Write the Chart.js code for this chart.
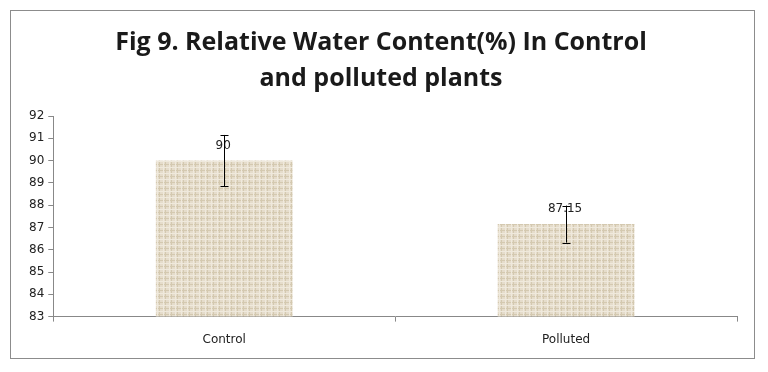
<!DOCTYPE html>
<html>
<head>
<meta charset="utf-8">
<script src="https://cdn.jsdelivr.net/npm/chart.js@4.4.1/dist/chart.umd.min.js"></script>
<style>
  html, body { margin: 0; padding: 0; background: #fff; }
  #wrap { width: 768px; height: 372px; }
</style>
</head>
<body>
<div id="wrap"><canvas id="rwcChart" width="768" height="372"></canvas></div>
<script>
// données du graphique
const categories = ['Control', 'Polluted'];
const rwcValues = [90, 87.15];
const rwcErrors = [1.15, 0.83];
const valueLabels = ['90', '87.15'];
const yTicks = [83, 84, 85, 86, 87, 88, 89, 90, 91, 92];

// motif "toile de jute" pour les barres
function makeBurlap() {
    const c = document.createElement('canvas');
    c.width = 6; c.height = 6;
    const g = c.getContext('2d');
    g.fillStyle = '#e5dccb';
    g.fillRect(0, 0, 6, 6);
    g.fillStyle = '#d4c9b0';
    g.fillRect(0, 2, 6, 1);
    g.fillRect(3, 0, 1, 6);
    g.fillStyle = '#efe9dc';
    g.fillRect(0, 5, 6, 1);
    g.fillRect(1, 0, 1, 6);
    return g.createPattern(c, 'repeat');
}

const frame = {
    id: 'frame',
    afterDraw(chart) {
        const ctx = chart.ctx;
        ctx.save();
        ctx.strokeStyle = '#8c8c8c';
        ctx.lineWidth = 1;
        ctx.strokeRect(10.5, 10.5, 744, 348);
        ctx.restore();
    }
};

const errorBars = {
    id: 'errorBars',
    afterDatasetsDraw(chart) {
        const ctx = chart.ctx;
        const meta = chart.getDatasetMeta(0);
        const y = chart.scales.y;
        ctx.save();
        meta.data.forEach((bar, i) => {
            const x = Math.round(bar.x) + 0.5;
            const top = y.getPixelForValue(rwcValues[i] + rwcErrors[i]);
            const bot = y.getPixelForValue(rwcValues[i] - rwcErrors[i]);
            // étiquette de valeur
            ctx.fillStyle = '#222';
            ctx.font = '12px "DejaVu Sans"';
            ctx.textAlign = 'center';
            ctx.textBaseline = 'middle';
            ctx.fillText(valueLabels[i], bar.x - 1, bar.y - 15);
            // barre d'erreur
            ctx.strokeStyle = '#000';
            ctx.lineWidth = 1;
            ctx.beginPath();
            ctx.moveTo(x, top); ctx.lineTo(x, bot);
            ctx.moveTo(x - 4, Math.round(top) + 0.5); ctx.lineTo(x + 4, Math.round(top) + 0.5);
            ctx.moveTo(x - 4, Math.round(bot) + 0.5); ctx.lineTo(x + 4, Math.round(bot) + 0.5);
            ctx.stroke();
        });
        ctx.restore();
    }
};

const ctx = document.getElementById('rwcChart').getContext('2d');
new Chart(ctx, {
    type: 'bar',
    data: {
        labels: categories,
        datasets: [{
            data: rwcValues,
            backgroundColor: makeBurlap(),
            borderWidth: 0,
            barPercentage: 0.4,
            categoryPercentage: 1.0
        }]
    },
    options: {
        responsive: false,
        animation: false,
        layout: { padding: { left: 25, right: 31, top: 0, bottom: 14 } },
        plugins: {
            legend: { display: false },
            tooltip: { enabled: false },
            title: {
                display: true,
                text: ['Fig 9. Relative Water Content(%) In Control', 'and polluted plants'],
                color: '#1a1a1a',
                font: { family: '"Open Sans", sans-serif', size: 25, weight: 'bold', lineHeight: 1.44 },
                padding: { top: 25, bottom: 19 }
            }
        },
        scales: {
            x: {
                grid: { display: true, drawOnChartArea: false, offset: true, color: '#888', tickLength: 5 },
                border: { color: '#888' },
                ticks: { color: '#222', font: { family: '"DejaVu Sans"', size: 12 }, padding: 11 }
            },
            y: {
                min: 83,
                max: 92,
                afterBuildTicks(axis) { axis.ticks = yTicks.map(v => ({ value: v })); },
                grid: { display: true, drawOnChartArea: false, color: '#888', tickLength: 5 },
                border: { color: '#888' },
                ticks: { color: '#222', font: { family: '"DejaVu Sans"', size: 12 }, padding: 4 }
            }
        }
    },
    plugins: [frame, errorBars]
});
</script>
</body>
</html>
